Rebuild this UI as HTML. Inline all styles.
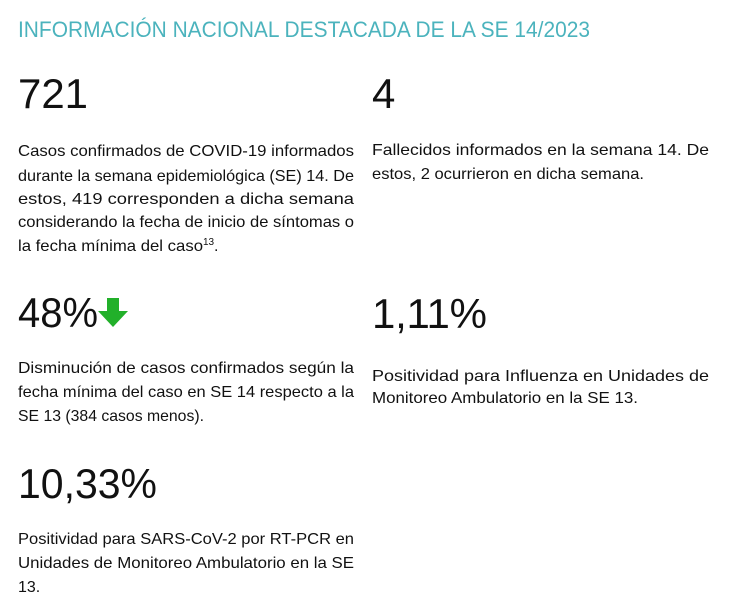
<!DOCTYPE html>
<html><head><meta charset="utf-8"><style>
html,body{margin:0;padding:0;background:#fff;}
svg{display:block;font-family:"Liberation Sans",sans-serif;}
.b{font-size:16px;fill:#111;}
.n{font-size:42px;fill:#111;}
</style></head><body>
<svg width="734" height="608" viewBox="0 0 734 608">
<text x="18" y="37" font-size="22" fill="#4bb3bd" textLength="572" lengthAdjust="spacingAndGlyphs">INFORMACIÓN NACIONAL DESTACADA DE LA SE 14/2023</text>

<text class="n" x="18" y="108" textLength="70" lengthAdjust="spacingAndGlyphs">721</text>
<text class="n" x="372" y="108">4</text>

<text class="b" x="18" y="156" textLength="336" lengthAdjust="spacingAndGlyphs">Casos confirmados de COVID-19 informados</text>
<text class="b" x="18" y="181" textLength="336" lengthAdjust="spacingAndGlyphs">durante la semana epidemiológica (SE) 14. De</text>
<text class="b" x="18" y="204" textLength="336" lengthAdjust="spacingAndGlyphs">estos,  419  corresponden  a  dicha  semana</text>
<text class="b" x="18" y="227" textLength="336" lengthAdjust="spacingAndGlyphs">considerando la fecha de inicio de síntomas o</text>
<text class="b" x="18" y="251" textLength="185" lengthAdjust="spacingAndGlyphs">la fecha mínima del caso</text>
<text x="203" y="245" font-size="10" fill="#111">13</text>
<text class="b" x="214" y="251">.</text>

<text class="b" x="372" y="155" textLength="337" lengthAdjust="spacingAndGlyphs">Fallecidos informados en la semana 14. De</text>
<text class="b" x="372" y="179" textLength="272" lengthAdjust="spacingAndGlyphs">estos, 2 ocurrieron en dicha semana.</text>

<text class="n" x="18" y="327" textLength="80" lengthAdjust="spacingAndGlyphs">48%</text>
<polygon points="107,298 119,298 119,311 128,311 113,327 98,311 107,311" fill="#22b02a"/>
<text class="n" x="372" y="328" textLength="115" lengthAdjust="spacing">1,11%</text>

<text class="b" x="18" y="373" textLength="336" lengthAdjust="spacingAndGlyphs">Disminución de casos confirmados según la</text>
<text class="b" x="18" y="397" textLength="336" lengthAdjust="spacingAndGlyphs">fecha mínima del caso en SE 14 respecto a la</text>
<text class="b" x="18" y="421" textLength="186" lengthAdjust="spacingAndGlyphs">SE 13 (384 casos menos).</text>

<text class="b" x="372" y="381" textLength="337" lengthAdjust="spacingAndGlyphs">Positividad para Influenza en Unidades de</text>
<text class="b" x="372" y="403" textLength="266" lengthAdjust="spacingAndGlyphs">Monitoreo Ambulatorio en la SE 13.</text>

<text class="n" x="18" y="498" textLength="139" lengthAdjust="spacingAndGlyphs">10,33%</text>

<text class="b" x="18" y="544" textLength="336" lengthAdjust="spacingAndGlyphs">Positividad para SARS-CoV-2 por RT-PCR en</text>
<text class="b" x="18" y="568" textLength="336" lengthAdjust="spacingAndGlyphs">Unidades de Monitoreo Ambulatorio en la SE</text>
<text class="b" x="18" y="592">13.</text>
</svg>
</body></html>
